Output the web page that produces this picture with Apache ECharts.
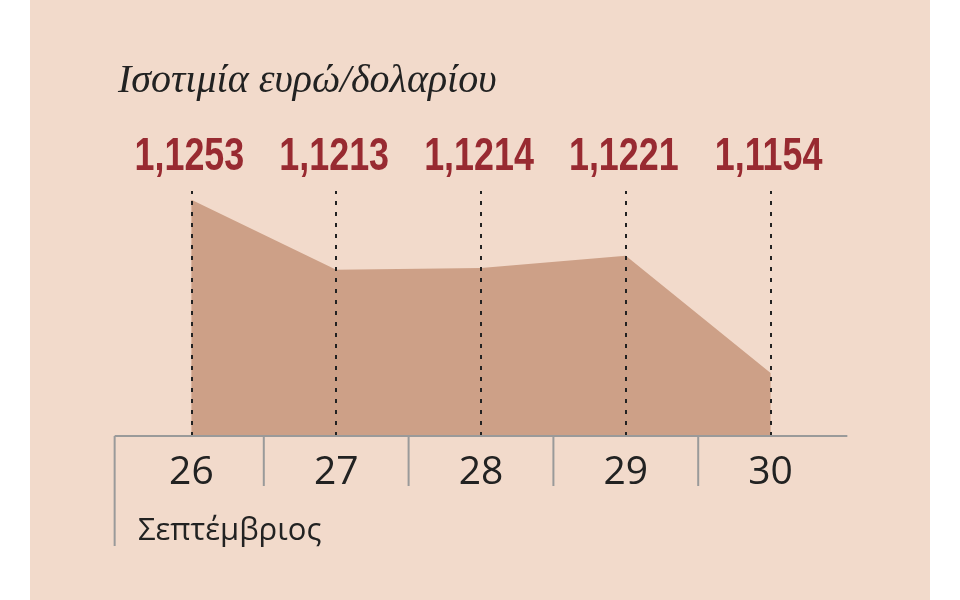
<!DOCTYPE html>
<html>
<head>
<meta charset="utf-8">
<script src="https://cdn.jsdelivr.net/npm/echarts@6/dist/echarts.min.js"></script>
<style>
  html, body { margin: 0; padding: 0; background: #ffffff; }
  #bg { position: absolute; left: 30px; top: 0; width: 900px; height: 600px; background: #f2dacb; }
  #chart { position: absolute; left: 0; top: 0; width: 960px; height: 600px; }
</style>
</head>
<body>
<div id="bg"></div>
<div id="chart"></div>
<script>
const titleText = 'Ισοτιμία ευρώ/δολαρίου';
const monthLabel = 'Σεπτέμβριος';
const categories = ['26', '27', '28', '29', '30'];
const values = [1.1253, 1.1213, 1.1214, 1.1221, 1.1154];

const fmt = v => v.toFixed(4).replace('.', ',');

const chart = echarts.init(document.getElementById('chart'), null, { renderer: 'canvas' });

const option = {
  backgroundColor: 'transparent',
  animation: false,
  title: [
    {
      text: titleText,
      left: 113,
      top: 56,
      textStyle: { fontFamily: 'Liberation Serif', fontStyle: 'italic', fontWeight: 'normal', fontSize: 40, color: '#222222' }
    },
    {
      text: monthLabel,
      left: 133,
      top: 511,
      textStyle: { fontFamily: 'Open Sans', fontWeight: 'normal', fontSize: 31, color: '#222222' }
    }
  ],
  grid: { left: 119, right: 117, top: 191, bottom: 164 },
  xAxis: {
    type: 'category',
    data: categories,
    boundaryGap: true,
    axisLine: { show: false },
    axisTick: { show: false },
    axisLabel: { fontFamily: 'Open Sans', fontWeight: 'normal', fontSize: 39, color: '#222222', margin: 17 }
  },
  yAxis: {
    type: 'value',
    min: 1.1118,
    max: 1.1258,
    show: false,
    splitLine: { show: false }
  },
  series: [
    {
      type: 'line',
      data: values,
      symbol: 'none',
      lineStyle: { width: 0 },
      areaStyle: { color: '#cda087', opacity: 1 },
      markLine: {
        silent: true,
        symbol: 'none',
        lineStyle: { type: [4, 7], color: '#222222', width: 2 },
        label: { show: false },
        data: categories.map((c, i) => ({ xAxis: i }))
      }
    }
  ]
};

chart.setOption(option);

// axis line, separators and value labels derived from the chart's scales
const px = categories.map((c, i) => chart.convertToPixel({ xAxisIndex: 0 }, i));
const band = (px[px.length - 1] - px[0]) / (px.length - 1);
const yBase = chart.convertToPixel({ yAxisIndex: 0 }, 1.1118);
const yTop = chart.convertToPixel({ yAxisIndex: 0 }, 1.1258);
const lineStyle = { stroke: '#9a9a9a', lineWidth: 2 };
const graphics = [];
const leftEnd = px[0] - 0.53 * band;
const rightEnd = px[px.length - 1] + 0.53 * band;
graphics.push({ type: 'line', shape: { x1: leftEnd, y1: yBase, x2: rightEnd, y2: yBase }, style: lineStyle, z: 10 });
graphics.push({ type: 'line', shape: { x1: leftEnd, y1: yBase, x2: leftEnd, y2: yBase + 110 }, style: lineStyle, z: 10 });
for (let i = 0; i < px.length - 1; i++) {
  const x = (px[i] + px[i + 1]) / 2;
  graphics.push({ type: 'line', shape: { x1: x, y1: yBase, x2: x, y2: yBase + 50 }, style: lineStyle, z: 10 });
}
values.forEach((v, i) => {
  graphics.push({
    type: 'text',
    x: px[i] - 2,
    y: yTop - 34,
    scaleX: 0.78,
    z: 10,
    style: {
      text: fmt(v),
      x: 0, y: 0,
      align: 'center',
      verticalAlign: 'middle',
      fontFamily: 'Liberation Sans',
      fontWeight: 'bold',
      fontSize: 46,
      fill: '#982a31'
    }
  });
});
chart.setOption({ graphic: graphics });
</script>
</body>
</html>
